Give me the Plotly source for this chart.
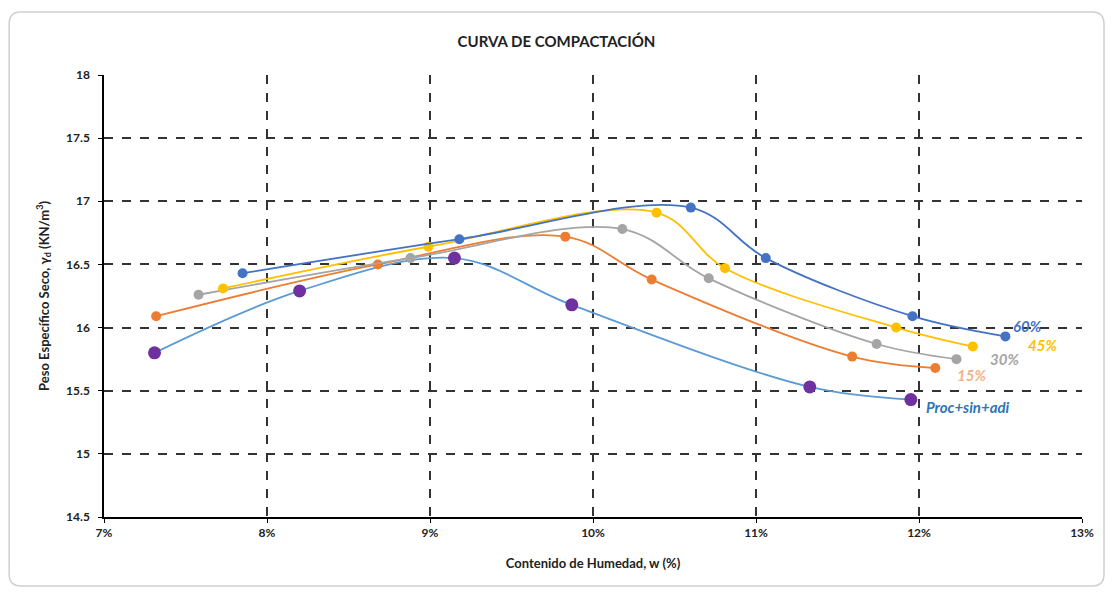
import plotly.graph_objects as go

# contenido de humedad (%) y peso especifico seco (KN/m3)
w_proc = [7.31, 8.20, 9.15, 9.87, 11.33, 11.95]
g_proc = [15.80, 16.29, 16.55, 16.18, 15.53, 15.43]

w_15 = [7.32, 8.68, 9.83, 10.36, 11.59, 12.10]
g_15 = [16.09, 16.50, 16.72, 16.38, 15.77, 15.68]

w_30 = [7.58, 8.88, 10.18, 10.71, 11.74, 12.23]
g_30 = [16.26, 16.55, 16.78, 16.39, 15.87, 15.75]

w_45 = [7.73, 8.99, 10.39, 10.81, 11.86, 12.33]
g_45 = [16.31, 16.64, 16.91, 16.47, 16.00, 15.85]

w_60 = [7.85, 9.18, 10.60, 11.06, 11.96, 12.53]
g_60 = [16.43, 16.70, 16.95, 16.55, 16.09, 15.93]

FONT = "Lato"

series = [
    # name, x, y, line color, marker color, marker size, label color, label shift (x, y)
    ("Proc+sin+adi", w_proc, g_proc, "#5B9BD5", "#7030A0", 13, "#2E75B6", (13, -7)),
    ("15%", w_15, g_15, "#ED7D31", "#ED7D31", 10, "#F4B183", (20, -7)),
    ("30%", w_30, g_30, "#A5A5A5", "#A5A5A5", 10, "#A5A5A5", (32, 0)),
    ("45%", w_45, g_45, "#FFC000", "#FFC000", 10, "#FFC000", (53, 2)),
    ("60%", w_60, g_60, "#4472C4", "#4472C4", 10, "#4472C4", (6, 10)),
]

fig = go.Figure()
for name, x, y, lc, mc, ms, tc, sh in series:
    fig.add_trace(go.Scatter(x=x, y=y, name=name, mode="lines+markers",
                             line=dict(color=lc, width=1.8, shape="spline", smoothing=1),
                             marker=dict(color=mc, size=ms),
                             showlegend=False))
    fig.add_annotation(x=x[-1], y=y[-1], text="<b><i>" + name + "</i></b>",
                       showarrow=False, xanchor="left", yanchor="middle",
                       xshift=sh[0], yshift=sh[1],
                       font=dict(family=FONT, size=15, color=tc))

# marco exterior del grafico (esquinas redondeadas)
x0, x1, y0, y1 = -0.097, 1.0225, -0.156, 1.1425
rx, ry = 0.012, 0.027
frame = (f"M {x0+rx},{y0} L {x1-rx},{y0} Q {x1},{y0} {x1},{y0+ry} "
         f"L {x1},{y1-ry} Q {x1},{y1} {x1-rx},{y1} L {x0+rx},{y1} "
         f"Q {x0},{y1} {x0},{y1-ry} L {x0},{y0+ry} Q {x0},{y0} {x0+rx},{y0} Z")
fig.add_shape(type="path", path=frame, xref="paper", yref="paper",
              line=dict(color="#CFCFCF", width=1.5), layer="below")

fig.update_layout(
    title=dict(text="<b>CURVA DE COMPACTACIÓN</b>", x=0.5, xanchor="center",
               y=0.941, yanchor="middle",
               font=dict(family=FONT, size=15, color="#222")),
    width=1097, height=579,
    margin=dict(l=96, r=23, t=67, b=70),
    paper_bgcolor="white", plot_bgcolor="white",
    font=dict(family=FONT, size=12, color="#333"),
)
fig.update_xaxes(range=[7, 13], dtick=1, ticksuffix="%",
                 showgrid=True, gridcolor="#333", griddash="dash", gridwidth=1.5,
                 showline=True, linecolor="black", linewidth=1.5,
                 ticks="outside", ticklen=4, tickcolor="black",
                 tickfont=dict(family=FONT, size=12, color="#222", weight="bold"),
                 title=dict(text="<b>Contenido de Humedad, w (%)</b>",
                            font=dict(family=FONT, size=13, color="#222"), standoff=20),
                 zeroline=False)
fig.update_yaxes(range=[14.5, 18], dtick=0.5,
                 showgrid=True, gridcolor="#333", griddash="dash", gridwidth=1.5,
                 showline=True, linecolor="black", linewidth=1.5,
                 ticks="outside", ticklen=4, tickcolor="black", ticklabelstandoff=6,
                 tickfont=dict(family=FONT, size=12, color="#222", weight="bold"),
                 title=dict(text="<b>Peso Específico Seco, γ<sub>d</sub> (KN/m<sup>3</sup>)</b>",
                            font=dict(family=FONT, size=13, color="#222"), standoff=14),
                 zeroline=False)

fig.write_html("out.html")
